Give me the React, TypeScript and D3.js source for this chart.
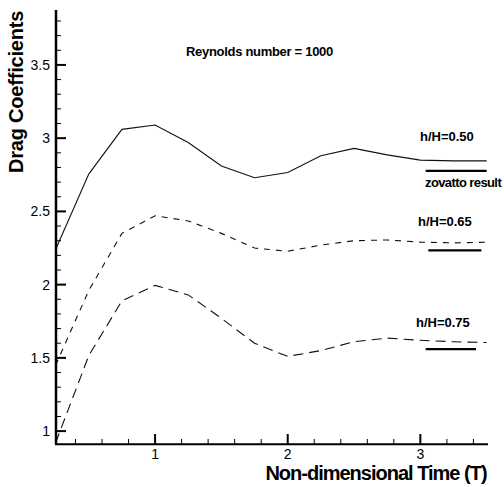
import React, { useEffect, useRef } from "react";
import * as d3 from "d3";

// time samples and drag coefficients
const times = [0.25, 0.5, 0.75, 1.0, 1.25, 1.5, 1.75, 2.0, 2.25, 2.5, 2.75, 3.0, 3.25, 3.5];
const cdH050 = [2.24, 2.755, 3.06, 3.09, 2.97, 2.81, 2.73, 2.765, 2.88, 2.93, 2.886, 2.85, 2.845, 2.845];
const cdH065 = [1.45, 1.96, 2.35, 2.47, 2.435, 2.35, 2.25, 2.228, 2.27, 2.3, 2.305, 2.29, 2.285, 2.29];
const cdH075 = [0.92, 1.515, 1.89, 1.995, 1.93, 1.77, 1.6, 1.51, 1.55, 1.61, 1.635, 1.62, 1.61, 1.605];

// zovatto reference levels (short thick segments)
const zovattoValues = [2.777, 2.234, 1.56];
const zovattoStart = [3.04, 3.06, 3.04];
const zovattoEnd = [3.5, 3.46, 3.42];

const xMajorTicks = [1, 2, 3];
const xMinorTicks = [0.4, 0.6, 0.8, 1.2, 1.4, 1.6, 1.8, 2.2, 2.4, 2.6, 2.8, 3.2, 3.4];
const yMajorTicks = [1, 1.5, 2, 2.5, 3, 3.5];
const yTickLabels = ["1", "1.5", "2", "2.5", "3", "3.5"];

const W = 504;
const H = 487;

const App = () => {
  const ref = useRef(null);

  useEffect(() => {
    const svg = d3.select(ref.current);
    svg.selectAll("*").remove();

    const x = d3.scaleLinear().domain([0.253, 3.51]).range([56, 488]);
    const y = d3.scaleLinear().domain([0.91, 3.875]).range([444.3, 10]);
    const font = "Liberation Sans, Arial, sans-serif";

    // y minor ticks every 0.1
    const yMinor = d3.range(10, 39).map((d) => d / 10).filter((d) => !yMajorTicks.some((m) => Math.abs(m - d) < 1e-6));

    const g = svg.append("g");

    // curves
    const line = d3
      .line()
      .x((d) => x(d[0]))
      .y((d) => y(d[1]));

    const series = [
      { values: cdH050, dash: null },
      { values: cdH065, dash: "6,6" },
      { values: cdH075, dash: "10,6" },
    ];
    series.forEach((s) => {
      g.append("path")
        .attr("d", line(times.map((t, i) => [t, s.values[i]])))
        .attr("fill", "none")
        .attr("stroke", "#111")
        .attr("stroke-width", 1.1)
        .attr("stroke-dasharray", s.dash);
    });

    // zovatto segments
    zovattoValues.forEach((v, i) => {
      g.append("line")
        .attr("x1", x(zovattoStart[i]))
        .attr("x2", x(zovattoEnd[i]))
        .attr("y1", y(v))
        .attr("y2", y(v))
        .attr("stroke", "#000")
        .attr("stroke-width", 2.2);
    });

    // axes
    g.append("line").attr("x1", 56).attr("x2", 56).attr("y1", y(3.875)).attr("y2", y(0.91)).attr("stroke", "#000").attr("stroke-width", 2.5);
    g.append("line").attr("x1", 55).attr("x2", x(3.51)).attr("y1", 444.3).attr("y2", 444.3).attr("stroke", "#000").attr("stroke-width", 2);

    yMajorTicks.forEach((v, i) => {
      g.append("line").attr("x1", 56).attr("x2", 66).attr("y1", y(v)).attr("y2", y(v)).attr("stroke", "#000").attr("stroke-width", 2);
      g.append("text")
        .attr("x", 50)
        .attr("y", y(v) + 5)
        .attr("text-anchor", "end")
        .attr("font-family", font)
        .attr("font-size", 14)
        .text(yTickLabels[i]);
    });
    yMinor.forEach((v) => {
      g.append("line").attr("x1", 56).attr("x2", 61).attr("y1", y(v)).attr("y2", y(v)).attr("stroke", "#000").attr("stroke-width", 1);
    });

    xMajorTicks.forEach((v) => {
      g.append("line").attr("x1", x(v)).attr("x2", x(v)).attr("y1", 444.3).attr("y2", 434).attr("stroke", "#000").attr("stroke-width", 2);
      g.append("text")
        .attr("x", x(v))
        .attr("y", 459)
        .attr("text-anchor", "middle")
        .attr("font-family", font)
        .attr("font-size", 14)
        .text(String(v));
    });
    xMinorTicks.forEach((v) => {
      g.append("line").attr("x1", x(v)).attr("x2", x(v)).attr("y1", 444.3).attr("y2", 439).attr("stroke", "#000").attr("stroke-width", 1);
    });

    // titles
    g.append("text")
      .attr("x", 376)
      .attr("y", 480)
      .attr("text-anchor", "middle")
      .attr("font-family", font)
      .attr("font-weight", "bold")
      .attr("font-size", 20)
      .attr("letter-spacing", -1)
      .text("Non-dimensional Time (T)");

    g.append("text")
      .attr("transform", "translate(23,92) rotate(-90)")
      .attr("text-anchor", "middle")
      .attr("font-family", font)
      .attr("font-weight", "bold")
      .attr("font-size", 20)
      .attr("letter-spacing", -0.2)
      .text("Drag Coefficients");

    // annotations
    const notes = [
      { text: "Reynolds number = 1000", x: 186, y: 56, ls: -0.3 },
      { text: "h/H=0.50", x: 420, y: 140.7, ls: 0 },
      { text: "zovatto result", x: 425, y: 187.3, ls: -0.6 },
      { text: "h/H=0.65", x: 418, y: 225.7, ls: 0 },
      { text: "h/H=0.75", x: 416, y: 327.3, ls: 0 },
    ];
    notes.forEach((n) => {
      g.append("text")
        .attr("x", n.x)
        .attr("y", n.y)
        .attr("font-family", font)
        .attr("font-weight", "bold")
        .attr("font-size", 13)
        .attr("letter-spacing", n.ls)
        .text(n.text);
    });
  }, []);

  return (
    <svg
      ref={ref}
      width={W}
      height={H}
      style={{ position: "absolute", left: 0, top: 0, background: "#fff" }}
    ></svg>
  );
};

export default App;
